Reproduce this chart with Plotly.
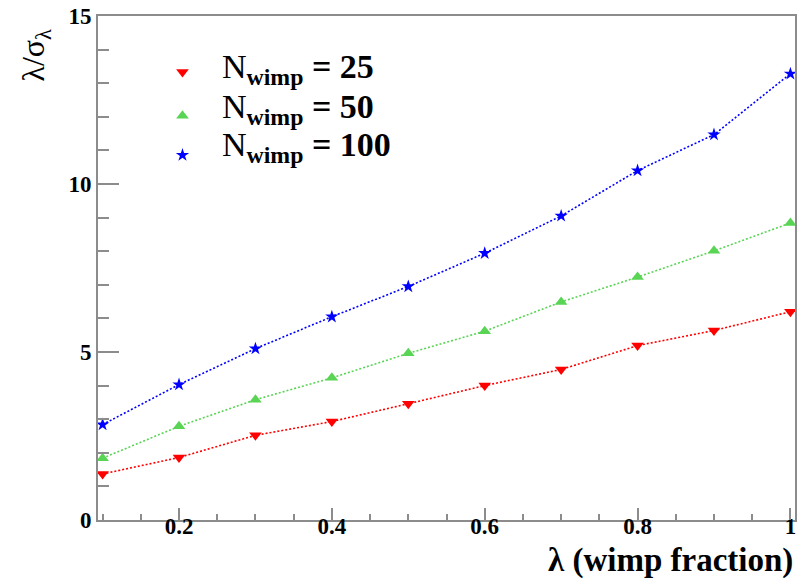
import plotly.graph_objects as go

# wimp fraction lambda
frac = [0.1, 0.2, 0.3, 0.4, 0.5, 0.6, 0.7, 0.8, 0.9, 1.0]

# significance lambda / sigma_lambda for each number of wimps
sig_n25 = [1.37, 1.86, 2.52, 2.93, 3.46, 4.00, 4.48, 5.19, 5.64, 6.20]
sig_n50 = [1.84, 2.79, 3.58, 4.23, 4.96, 5.62, 6.49, 7.23, 8.01, 8.84]
sig_n100 = [2.84, 4.03, 5.10, 6.05, 6.95, 7.94, 9.05, 10.40, 11.47, 13.28]

n_wimp = [25, 50, 100]
series_values = [sig_n25, sig_n50, sig_n100]
colors = ["#ff0000", "#59d454", "#0000ff"]
symbols = ["triangle-down", "triangle-up", "star"]
sizes = [11, 11, 10]

FONT = "Liberation Serif"
AXIS_GREY = "#8c8c8c"
X_RANGE = [0.094, 1.006]
Y_RANGE = [0, 15]

# legend rows: marker centre and text centre, in paper units
legend_marker_y = [0.889, 0.802, 0.724]
legend_text_y = [0.895, 0.816, 0.740]
legend_names = ["legend", "legend2", "legend3"]

fig = go.Figure()

for vals, col, sym, sz in zip(series_values, colors, symbols, sizes):
    fig.add_trace(go.Scatter(
        x=frac, y=vals, mode="lines+markers", showlegend=False,
        line=dict(color=col, width=1.6, dash="2px,2px"),
        marker=dict(symbol=sym, color=col, size=sz, line=dict(width=0)),
    ))

# one marker-only legend per series so each row can be placed on its own;
# these empty traces also carry the overlay axes used for the minor ticks
for lg, col, sym, sz in zip(legend_names, colors, symbols, sizes):
    fig.add_trace(go.Scatter(
        x=[None], y=[None], mode="markers", name=" ", legend=lg,
        xaxis="x2", yaxis="y2",
        marker=dict(symbol=sym, color=col, size=sz, line=dict(width=0)),
    ))

legend_layout = {}
for lg, ym in zip(legend_names, legend_marker_y):
    legend_layout[lg] = dict(
        x=0.0925, y=ym, xanchor="left", yanchor="middle",
        itemwidth=30, font=dict(family=FONT, size=12),
        bgcolor="rgba(255,255,255,0)", borderwidth=0,
    )

for n, yt in zip(n_wimp, legend_text_y):
    fig.add_annotation(
        text=f"N<sub><b>wimp</b></sub><b> = {n}</b>",
        xref="paper", yref="paper", x=0.175, y=yt,
        xanchor="left", yanchor="middle", showarrow=False,
        font=dict(family=FONT, size=34, color="black"),
    )

tick_font = dict(family=FONT, size=23, color="black", weight="bold")

fig.update_layout(
    xaxis=dict(
        range=X_RANGE, tickmode="linear", tick0=0, dtick=0.2,
        showgrid=False, zeroline=False,
        showline=True, linecolor=AXIS_GREY, linewidth=2, mirror=True,
        ticks="inside", ticklen=12, tickcolor=AXIS_GREY, tickwidth=1.5,
        tickfont=tick_font, ticklabelstandoff=-16,
    ),
    yaxis=dict(
        range=Y_RANGE, tickmode="linear", tick0=0, dtick=5,
        showgrid=False, zeroline=False,
        showline=True, linecolor=AXIS_GREY, linewidth=2, mirror=True,
        ticks="inside", ticklen=21, tickcolor=AXIS_GREY, tickwidth=1.5,
        tickfont=tick_font,
    ),
    # minor ticks
    xaxis2=dict(
        overlaying="x", side="bottom", range=X_RANGE,
        tickmode="linear", tick0=0, dtick=0.05,
        showgrid=False, zeroline=False, showline=False, showticklabels=False,
        ticks="inside", ticklen=6, tickcolor=AXIS_GREY, tickwidth=1.5,
    ),
    yaxis2=dict(
        overlaying="y", side="left", range=Y_RANGE,
        tickmode="linear", tick0=0, dtick=1,
        showgrid=False, zeroline=False, showline=False, showticklabels=False,
        ticks="inside", ticklen=11, tickcolor=AXIS_GREY, tickwidth=1.5,
    ),
)

fig.add_annotation(
    text="λ (wimp fraction)", xref="paper", yref="paper",
    x=1.0, y=-0.081, xanchor="right", yanchor="middle", showarrow=False,
    font=dict(family=FONT, size=33, color="black", weight="bold"),
)
fig.add_annotation(
    text="λ/σ<sub>λ</sub>", xref="paper", yref="paper", textangle=-90,
    x=-0.089, y=0.98, xanchor="center", yanchor="top", showarrow=False,
    font=dict(family=FONT, size=32, color="black"),
)

fig.update_layout(
    template="none",
    width=805, height=582,
    margin=dict(l=98, r=10, t=16, b=62),
    font=dict(family=FONT, color="black"),
    **legend_layout,
)

fig.write_html("out.html")
